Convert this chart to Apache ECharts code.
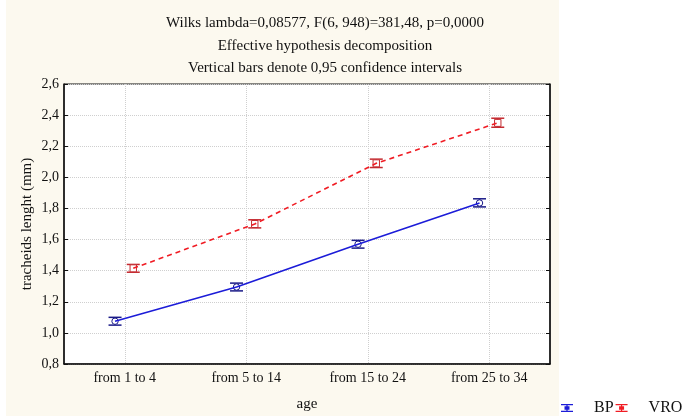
<!DOCTYPE html>
<html>
<head>
<meta charset="utf-8">
<script src="https://cdn.jsdelivr.net/npm/echarts@6/dist/echarts.min.js"></script>
<style>
  html, body { margin: 0; padding: 0; background: #fff; }
  #chart { width: 687px; height: 420px; }
</style>
</head>
<body>
<div id="chart"></div>
<script>
  // age classes
  var categories = ['from 1 to 4', 'from 5 to 14', 'from 15 to 24', 'from 25 to 34'];

  // means and 0,95 confidence limits
  var bpMean = [1.075, 1.295, 1.57, 1.835];
  var bpLow = [1.05, 1.27, 1.545, 1.81];
  var bpHigh = [1.10, 1.32, 1.595, 1.862];

  var vroMean = [1.415, 1.70, 2.09, 2.35];
  var vroLow = [1.39, 1.675, 2.063, 2.322];
  var vroHigh = [1.44, 1.727, 2.117, 2.38];

  var yTicks = ['0,8', '1,0', '1,2', '1,4', '1,6', '1,8', '2,0', '2,2', '2,4', '2,6'];

  var titleLines = [
    'Wilks lambda=0,08577, F(6, 948)=381,48, p=0,0000',
    'Effective hypothesis decomposition',
    'Vertical bars denote 0,95 confidence intervals'
  ];

  var serif = 'Liberation Serif, Times New Roman, serif';
  var BLUE = '#1c1cd8';
  var BLUE_BAR = '#1a1a88';
  var RED = '#f01c24';
  var RED_BAR = '#c42a30';

  // statistica nudges the two groups sideways a little
  var bpShift = -0.08;
  var vroShift = 0.07;

  function errBars(low, high, mean, shift) {
    return low.map(function (lo, i) { return [i + shift, lo, high[i], mean[i]]; });
  }
  function linePts(mean, shift) {
    return mean.map(function (v, i) { return [i + shift, v]; });
  }

  function barRenderer(barColor, marker) {
    return function (params, api) {
      var x = api.value(0);
      var pLo = api.coord([x, api.value(1)]);
      var pHi = api.coord([x, api.value(2)]);
      var pM = api.coord([x, api.value(3)]);
      var w = 6.5;
      var st = { stroke: barColor, lineWidth: 1.5 };
      var kids = [
        { type: 'line', shape: { x1: pLo[0] - w, y1: pLo[1], x2: pLo[0] + w, y2: pLo[1] }, style: st },
        { type: 'line', shape: { x1: pHi[0] - w, y1: pHi[1], x2: pHi[0] + w, y2: pHi[1] }, style: st },
        { type: 'line', shape: { x1: pLo[0], y1: pLo[1], x2: pHi[0], y2: pHi[1] }, style: st }
      ];
      if (marker === 'circle') {
        kids.push({ type: 'circle', shape: { cx: pM[0], cy: pM[1], r: 3.2 }, style: { fill: '#fff', stroke: barColor, lineWidth: 1 } });
      } else {
        kids.push({ type: 'rect', shape: { x: pM[0] - 3.2, y: pM[1] - 3.5, width: 6.4, height: 7 }, style: { fill: '#fff', stroke: barColor, lineWidth: 1 } });
      }
      return { type: 'group', children: kids };
    };
  }

  var legendIcon = 'path://M0,0H12V1.2H0Z M5.4,1H6.6V7H5.4Z M0,6.8H12V8H0Z M3.5,2.2H8.5V5.8H3.5Z';

  var chart = echarts.init(document.getElementById('chart'));
  var option = {
    animation: false,
    backgroundColor: '#fff',
    graphic: [{
      type: 'rect', z: -100, silent: true,
      shape: { x: 6, y: 0, width: 553, height: 416 },
      style: { fill: '#fcf9ef' }
    }],
    title: {
      text: titleLines.join('\n'),
      left: 320, top: 7,
      textAlign: 'center',
      textStyle: { fontFamily: serif, fontSize: 15, fontWeight: 'normal', color: '#111', lineHeight: 22.5 }
    },
    legend: {
      left: 561, top: 400, padding: 0,
      itemWidth: 12, itemHeight: 8, itemGap: 2,
      icon: legendIcon,
      textStyle: { fontFamily: serif, fontSize: 16, color: '#111', padding: [8, 0, 0, 16] },
      data: [
        { name: 'BP', itemStyle: { color: BLUE } },
        { name: 'VRO', itemStyle: { color: RED } }
      ]
    },
    grid: {
      left: 64, right: 137, top: 84, bottom: 56,
      show: true, backgroundColor: '#fff', borderColor: '#111', borderWidth: 1
    },
    xAxis: [{
      type: 'category',
      data: categories,
      boundaryGap: true,
      name: 'age', nameLocation: 'middle', nameGap: 33,
      nameTextStyle: { fontFamily: serif, fontSize: 15, color: '#111' },
      axisLine: { lineStyle: { color: '#111', width: 1.5 } },
      axisTick: { inside: true, length: 4, alignWithLabel: true, lineStyle: { color: '#111' } },
      axisLabel: { fontFamily: serif, fontSize: 14, color: '#111', margin: 7 },
      splitLine: { show: true, alignWithLabel: true, lineStyle: { color: '#cfcfcf', type: 'dotted' } }
    }, {
      type: 'value', min: -0.5, max: 3.5, show: false
    }],
    yAxis: [{
      type: 'value', min: 0.8, max: 2.6, interval: 0.2,
      name: 'tracheids lenght (mm)', nameLocation: 'middle', nameGap: 29,
      nameMoveOverlap: false,
      nameTextStyle: { fontFamily: serif, fontSize: 15, color: '#111' },
      axisLine: { show: true, onZero: false, lineStyle: { color: '#111', width: 1.5 } },
      axisTick: { show: true, inside: true, length: 4, lineStyle: { color: '#111' } },
      axisLabel: {
        fontFamily: serif, fontSize: 14, color: '#111', margin: 5,
        formatter: function (v) { return yTicks[Math.round((v - 0.8) / 0.2)]; }
      },
      splitLine: { lineStyle: { color: '#cfcfcf', type: 'dotted' } }
    }, {
      type: 'value', min: 0.8, max: 2.6, interval: 0.2, position: 'right',
      axisLine: { show: true, onZero: false, lineStyle: { color: '#111', width: 1.5 } },
      axisTick: { show: true, inside: true, length: 4, lineStyle: { color: '#111' } },
      axisLabel: { show: false },
      splitLine: { show: false }
    }],
    series: [{
      name: 'BP', type: 'line', xAxisIndex: 1,
      data: linePts(bpMean, bpShift),
      symbol: 'none',
      lineStyle: { color: BLUE, width: 1.6 },
      itemStyle: { color: BLUE }
    }, {
      name: 'VRO', type: 'line', xAxisIndex: 1,
      data: linePts(vroMean, vroShift),
      symbol: 'none',
      lineStyle: { color: RED, width: 1.6, type: [5, 4] },
      itemStyle: { color: RED }
    }, {
      name: 'BP', type: 'custom', xAxisIndex: 1,
      data: errBars(bpLow, bpHigh, bpMean, bpShift),
      encode: { x: 0, y: [1, 2, 3] },
      renderItem: barRenderer(BLUE_BAR, 'circle'),
      z: 3
    }, {
      name: 'VRO', type: 'custom', xAxisIndex: 1,
      data: errBars(vroLow, vroHigh, vroMean, vroShift),
      encode: { x: 0, y: [1, 2, 3] },
      renderItem: barRenderer(RED_BAR, 'rect'),
      z: 3
    }]
  };
  chart.setOption(option);
</script>
</body>
</html>
